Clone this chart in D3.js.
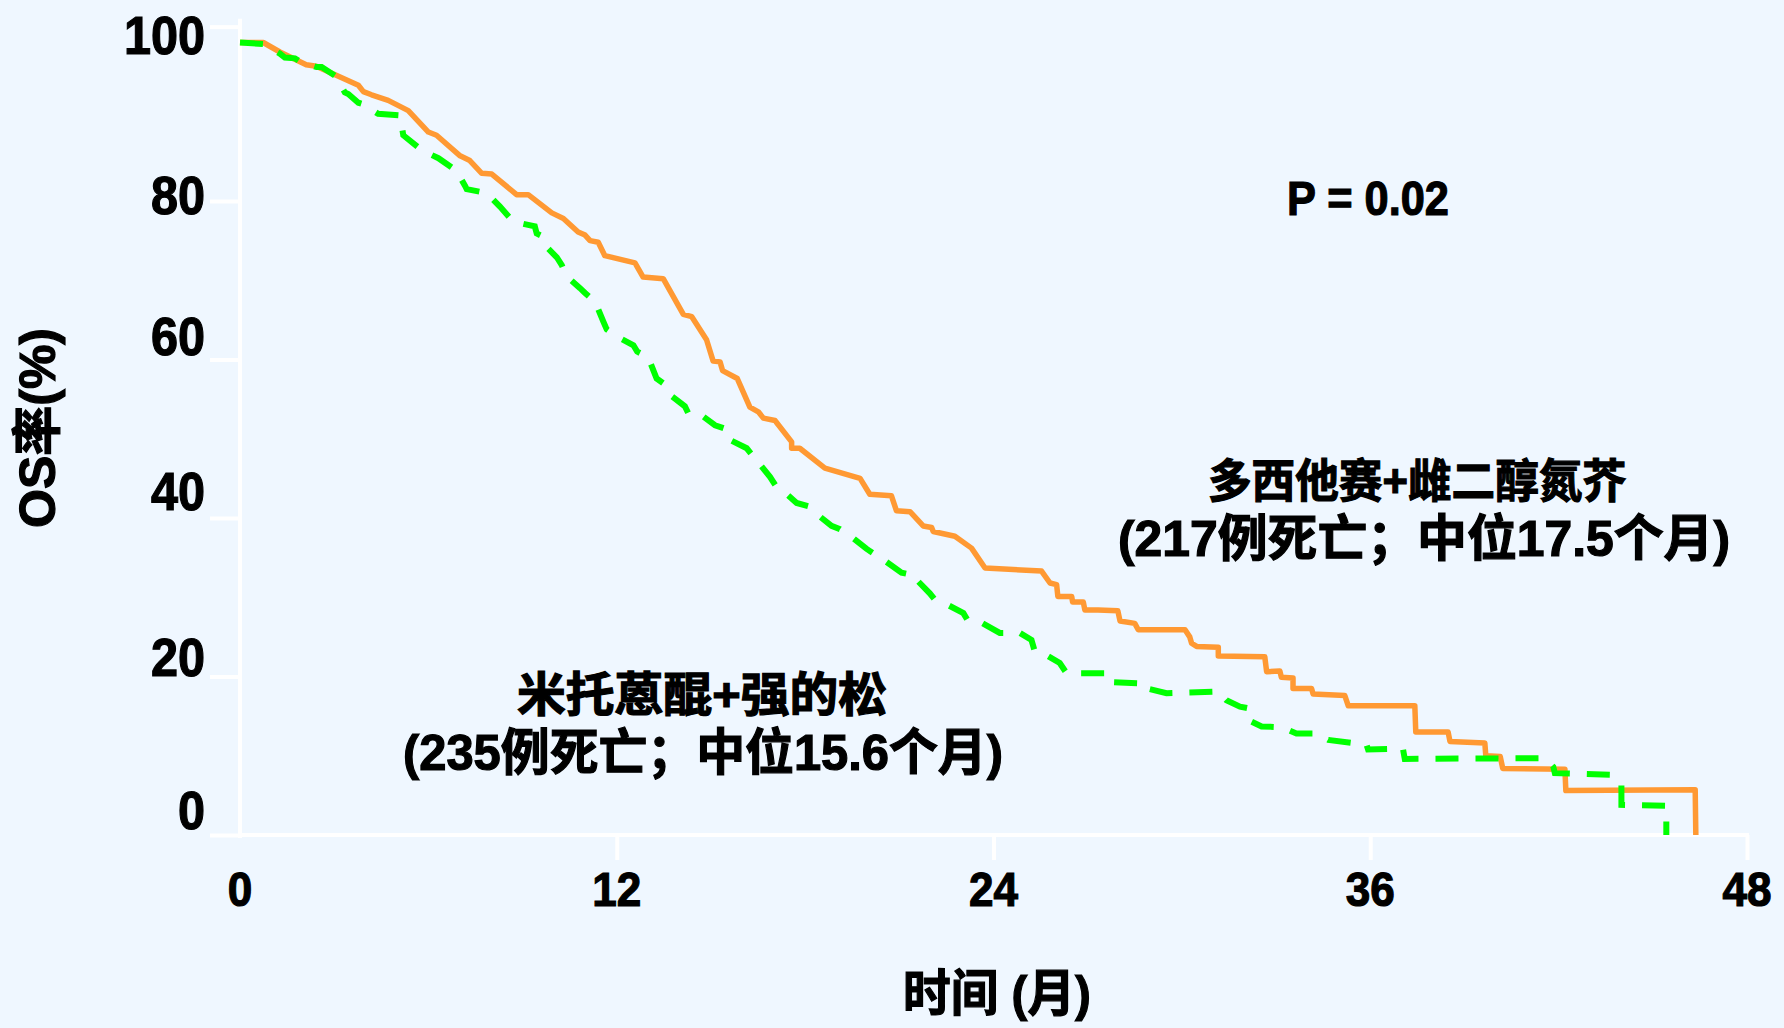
<!DOCTYPE html>
<html>
<head>
<meta charset="utf-8">
<script src="https://cdn.jsdelivr.net/npm/d3@7"></script>
<style>
  html, body { margin: 0; padding: 0; background: #EFF7FF; }
  svg { display: block; }
  text { font-family: "Liberation Sans", Arial, "Noto Sans CJK SC", sans-serif; font-weight: 700; fill: #000; stroke: #000; stroke-width: 1.2px; }
</style>
</head>
<body>
<svg id="chart" width="1784" height="1028"></svg>
<script>
// ---------------- data ----------------
// x: months, y: OS rate (%)
const xTicks = [12, 24, 36, 48];
const xTickLabels = ["0", "12", "24", "36", "48"];
const xLabelValues = [0, 12, 24, 36, 48];
const yTicks = [0, 20, 40, 60, 80, 102];
const yTickLabels = ["0", "20", "40", "60", "80", "100"];

// 多西他赛+雌二醇氮芥 (orange, solid)
const docetaxelOS = [
  [0,100],[0.74,100],[1.27,98.8],[2.11,97.2],[2.43,97.0],[3.77,94.6],[3.93,93.8],[4.19,93.4],
  [4.72,92.7],[5.36,91.4],[6.0,88.7],[6.26,88.3],[7.01,85.7],[7.32,85.1],[7.70,83.5],[8.02,83.4],
  [8.81,80.8],[9.18,80.8],[9.93,78.5],[10.30,77.8],[10.77,76.1],[10.99,75.7],[11.15,75.0],[11.41,74.8],
  [11.62,73.1],[12.58,72.2],[12.84,70.4],[13.48,70.2],[14.12,65.7],[14.39,65.4],[14.86,62.5],[15.07,59.8],
  [15.29,59.7],[15.37,58.6],[15.84,57.6],[16.24,54.0],[16.51,53.4],[16.67,52.6],[17.04,52.3],[17.57,49.6],
  [17.57,48.8],[17.83,48.8],[18.63,46.3],[19.75,45.0],[20.06,43.0],[20.75,42.8],[20.91,40.9],[21.34,40.8],
  [21.76,39.0],[22.03,38.8],[22.08,38.3],[22.77,37.7],[23.30,36.2],[23.73,33.7],[25.53,33.3],[25.80,31.8],
  [26.01,31.6],[26.05,30.1],[26.49,30.1],[26.52,29.4],[26.86,29.4],[26.91,28.4],[27.33,28.4],[27.96,28.3],
  [28.03,27.0],[28.50,26.7],[28.61,25.9],[30.10,25.9],[30.25,25.0],[30.31,24.2],[30.47,23.8],[31.16,23.7],
  [31.16,22.6],[32.64,22.5],[32.70,20.6],[33.12,20.7],[33.17,19.9],[33.54,19.8],[33.54,18.5],[34.13,18.5],
  [34.18,17.8],[35.19,17.6],[35.30,16.3],[37.42,16.3],[37.45,13.0],[38.48,13.0],[38.54,11.8],[39.65,11.6],
  [39.68,10.0],[40.14,9.9],[40.22,8.4],[42.20,8.3],[42.23,5.6],[46.35,5.7],[46.37,0]
];

// 米托蒽醌+强的松 (green, dashed)
const mitoxantroneOS = [
  [0,100],[0.74,99.8],[1.27,98.6],[1.43,98.1],[1.75,98.0],[1.91,97.6],[2.44,96.9],[2.60,96.9],
  [3.03,95.8],[3.34,93.7],[3.45,93.5],[3.77,92.4],[3.93,92.2],[4.40,91.0],[5.10,90.8],[5.20,88.3],
  [5.79,86.4],[6.32,85.4],[6.90,83.8],[7.17,81.9],[7.22,81.5],[7.86,81.0],[8.28,79.3],[8.70,77.4],
  [9.39,76.8],[9.45,75.9],[9.61,75.6],[9.66,74.6],[10.09,72.9],[10.25,71.9],[10.40,70.5],[10.83,69.0],
  [10.99,68.4],[11.31,67.3],[11.57,64.8],[11.68,63.8],[12.0,62.9],[12.53,61.8],[12.65,61.0],[13.0,60.3],
  [13.27,57.6],[13.48,57.0],[13.64,55.7],[14.17,54.1],[14.28,53.2],[14.65,53.1],[15.13,51.7],[15.50,51.2],
  [15.58,49.9],[16.14,48.8],[16.88,45.2],[17.09,43.9],[17.36,43.2],[17.73,41.9],[18.10,41.5],[18.37,40.5],
  [18.84,39.0],[19.11,38.6],[19.48,37.6],[19.96,36.1],[20.54,34.6],[21.07,33.1],[21.55,32.7],[21.60,32.0],
  [21.97,30.5],[22.13,29.7],[22.56,29.0],[23.04,28.0],[23.19,27.0],[23.62,26.8],[24.20,25.5],[24.84,25.5],
  [25.21,24.6],[25.32,23.1],[25.64,22.8],[26.11,21.7],[26.33,20.4],[27.65,20.4],[27.71,19.3],[28.93,19.1],
  [28.98,18.4],[29.51,17.9],[31.16,18.1],[31.42,17.0],[31.85,16.2],[32.11,16.0],[32.11,14.5],[32.54,13.7],
  [33.17,13.6],[33.65,12.8],[34.29,12.8],[34.66,12.0],[35.88,11.4],[35.93,10.8],[37.04,10.9],[37.10,9.6],
  [41.56,9.7],[41.83,8.6],[41.88,7.8],[43.74,7.6],[44.0,6.3],[44.0,3.8],[45.43,3.7],[45.43,0]
];

const texts = {
  p: "P = 0.02",
  docName: "多西他赛+雌二醇氮芥",
  docInfo: "(217例死亡；中位17.5个月)",
  mitName: "米托蒽醌+强的松",
  mitInfo: "(235例死亡；中位15.6个月)",
  xTitle: "时间 (月)",
  yTitle: "OS率(%)"
};

// ---------------- layout ----------------
const svg = d3.select("#chart");
const x = d3.scaleLinear().domain([0, 48]).range([240, 1747]);
const y = d3.scaleLinear().domain([0, 100]).range([835, 42.5]);
const yLabelDy = [-25, -20, -27, -24, -6, 8];

svg.append("rect").attr("width", 1784).attr("height", 1028).attr("fill", "#EFF7FF");

// y axis ticks
const gy = svg.append("g").attr("transform", "translate(240,0)")
  .call(d3.axisLeft(y).tickValues(yTicks).tickSize(30).tickFormat(""));
gy.select(".domain").remove();
gy.selectAll(".tick line").attr("stroke", "#fff").attr("stroke-width", 4);

// x axis ticks
const gx = svg.append("g").attr("transform", "translate(0,835)")
  .call(d3.axisBottom(x).tickValues(xTicks).tickSize(25).tickFormat(""));
gx.select(".domain").remove();
gx.selectAll(".tick line").attr("stroke", "#fff").attr("stroke-width", 4);

// axis lines
svg.append("line").attr("x1", x(0)).attr("x2", x(0)).attr("y1", y(103)).attr("y2", 838)
  .attr("stroke", "#fff").attr("stroke-width", 4);
svg.append("line").attr("x1", x(0)).attr("x2", x(48) + 2).attr("y1", y(0)).attr("y2", y(0))
  .attr("stroke", "#fff").attr("stroke-width", 4);

// y tick labels
yTicks.forEach((v, i) => {
  svg.append("text")
    .attr("transform", `translate(205,${y(v) + yLabelDy[i] + 19})scale(0.9,1)`)
    .attr("text-anchor", "end").attr("font-size", 54)
    .text(yTickLabels[i]);
});

// x tick labels
xLabelValues.forEach((v, i) => {
  svg.append("text")
    .attr("transform", `translate(${x(v)},${906})scale(0.9,1)`)
    .attr("text-anchor", "middle").attr("font-size", 49)
    .text(xTickLabels[i]);
});

// curves
const line = d3.line().x(d => x(d[0])).y(d => y(d[1]));
svg.append("path").datum(docetaxelOS).attr("d", line)
  .attr("fill", "none").attr("stroke", "#FF9933").attr("stroke-width", 5.5)
  .attr("stroke-linejoin", "round");
svg.append("path").datum(mitoxantroneOS).attr("d", line)
  .attr("fill", "none").attr("stroke", "#00FF00").attr("stroke-width", 6)
  .attr("stroke-dasharray", "23,17");

// annotations
function label(str, cx, base, size, len) {
  svg.append("text").attr("x", cx).attr("y", base).attr("text-anchor", "middle")
    .attr("font-size", size).attr("textLength", len).attr("lengthAdjust", "spacingAndGlyphs")
    .text(str);
}
label(texts.p, 1368, 215, 49, 162);
label(texts.docName, 1417, 497, 46, 418);
label(texts.docInfo, 1424, 556, 50, 612);
label(texts.mitName, 702, 711, 47, 370);
label(texts.mitInfo, 703, 770, 50, 600);
label(texts.xTitle, 997, 1011, 50, 188);

svg.append("text")
  .attr("transform", "translate(55,428)rotate(-90)")
  .attr("text-anchor", "middle").attr("font-size", 50)
  .attr("textLength", 200).attr("lengthAdjust", "spacingAndGlyphs")
  .text(texts.yTitle);
</script>
</body>
</html>
